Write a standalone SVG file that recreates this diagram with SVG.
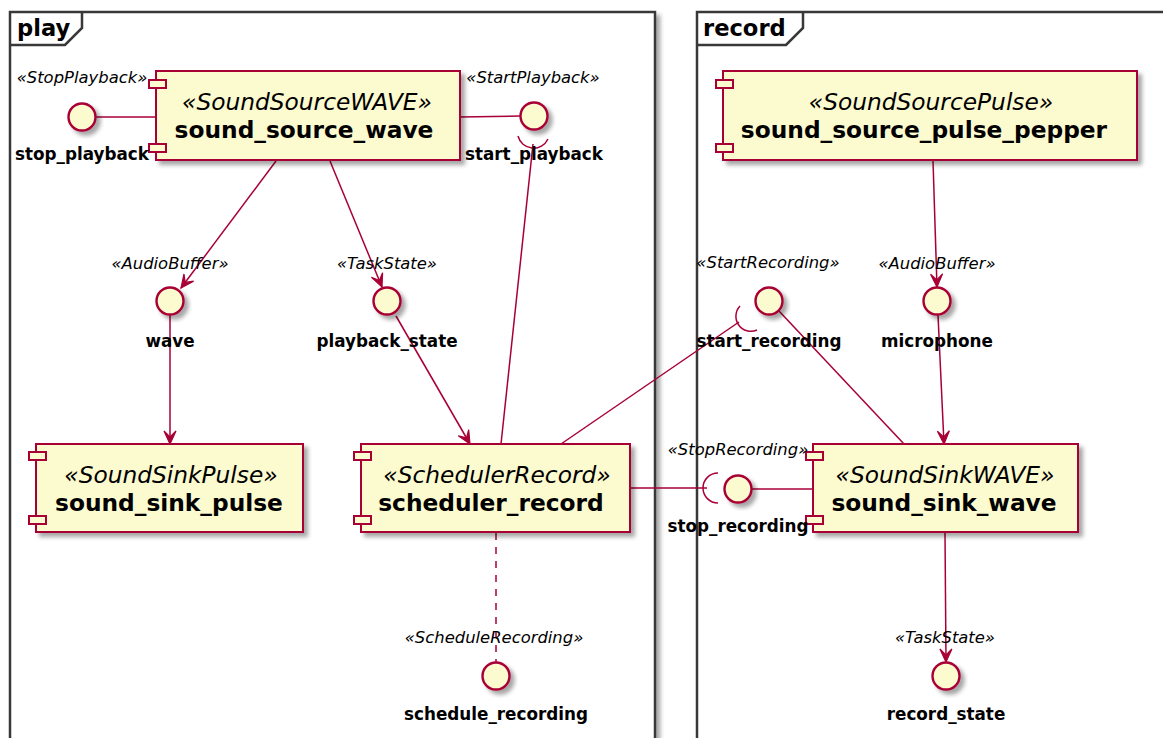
<svg xmlns="http://www.w3.org/2000/svg" width="1163" height="738" viewBox="0 0 1163 738">
  <defs>
    <filter id="shadow" x="-20%" y="-20%" width="150%" height="150%">
      <feGaussianBlur in="SourceAlpha" stdDeviation="2.2"/>
      <feOffset dx="4" dy="4" result="blur"/>
      <feFlood flood-color="#000" flood-opacity="0.35"/>
      <feComposite in2="blur" operator="in"/>
      <feMerge>
        <feMergeNode/>
        <feMergeNode in="SourceGraphic"/>
      </feMerge>
    </filter>
    <marker id="arrow" markerUnits="userSpaceOnUse" viewBox="-15 -8 17 16" refX="0" refY="0" markerWidth="17" markerHeight="16" orient="auto">
      <path d="M0,0 L-13,-6 L-7,0 L-13,6 Z" fill="#A80036" stroke="#A80036" stroke-width="1.2" stroke-linejoin="miter"/>
    </marker>
    <style>
      .frame { fill: #fff; stroke: #383838; stroke-width: 2.5; }
      .tab { fill: none; stroke: #383838; stroke-width: 2.5; }
      .ftitle { font-family: "DejaVu Sans", sans-serif; font-weight: bold; font-size: 22.6px; fill: #000; }
      .comp { fill: #FCFACF; stroke: #A80036; stroke-width: 2; }
      .port { fill: #FCFACF; stroke: #A80036; stroke-width: 2; }
      .iface { fill: #FCFACF; stroke: #A80036; stroke-width: 2.4; }
      .stereo { font-family: "DejaVu Sans", sans-serif; font-style: italic; font-size: 23.3px; fill: #000; text-anchor: middle; }
      .name { font-family: "DejaVu Sans", sans-serif; font-weight: bold; font-size: 23.3px; fill: #000; text-anchor: middle; }
      .istereo { font-family: "DejaVu Sans", sans-serif; font-style: italic; font-size: 16.4px; fill: #000; text-anchor: middle; }
      .iname { font-family: "DejaVu Sans", sans-serif; font-weight: bold; font-size: 16.8px; fill: #000; text-anchor: middle; }
      .link { fill: none; stroke: #A80036; stroke-width: 1.5; }
      .arrow { marker-end: url(#arrow); }
      .dashed { stroke-dasharray: 7 7; }
    </style>
  </defs>

  <rect width="1163" height="738" fill="#fff"/>

  <!-- packages -->
  <g id="frame-play">
    <rect class="frame" x="10" y="12" width="645" height="760" filter="url(#shadow)"/>
    <path class="tab" d="M10,45 H65 L82,28 V12"/>
    <text class="ftitle" x="17" y="36">play</text>
  </g>
  <g id="frame-record">
    <rect class="frame" x="697" y="12" width="520" height="760" filter="url(#shadow)"/>
    <path class="tab" d="M697,45 H786 L803,28 V12"/>
    <text class="ftitle" x="703" y="36">record</text>
  </g>

  <!-- connectors -->
  <g id="connectors">
    <line class="link" x1="96" y1="117" x2="156" y2="117"/>
    <line class="link" x1="460" y1="117" x2="520" y2="116"/>
    <path class="link" d="M518,136 A16,16 0 0 0 548,139"/>
    <line class="link" x1="533" y1="144" x2="501" y2="444"/>
    <line class="link arrow" x1="276" y1="161" x2="181" y2="288"/>
    <line class="link arrow" x1="330" y1="161" x2="382" y2="287"/>
    <line class="link arrow" x1="170" y1="315" x2="170" y2="444"/>
    <line class="link arrow" x1="396" y1="316" x2="470" y2="444"/>
    <line class="link dashed" x1="496" y1="533" x2="496" y2="662"/>
    <path class="link" d="M740,306 A15,15 0 0 0 757,330"/>
    <line class="link" x1="561" y1="444" x2="739" y2="322"/>
    <line class="link" x1="779" y1="311" x2="904" y2="444"/>
    <path class="link" d="M718,473 A15,15 0 0 0 718,503"/>
    <line class="link" x1="630" y1="488" x2="707" y2="488"/>
    <line class="link" x1="752" y1="489" x2="813" y2="489"/>
    <line class="link arrow" x1="933" y1="161" x2="937" y2="287"/>
    <line class="link arrow" x1="938" y1="315" x2="944" y2="444"/>
    <line class="link arrow" x1="945" y1="533" x2="946" y2="662"/>
  </g>

  <!-- components -->
  <g id="sound_source_wave">
    <rect class="comp" x="156" y="71" width="304" height="89" filter="url(#shadow)"/>
    <rect class="port" x="149" y="80" width="17" height="8"/>
    <rect class="port" x="149" y="144" width="17" height="8"/>
    <text class="stereo" x="307" y="110">«SoundSourceWAVE»</text>
    <text class="name" x="304" y="138">sound_source_wave</text>
  </g>
  <g id="sound_sink_pulse">
    <rect class="comp" x="36" y="444" width="267" height="88" filter="url(#shadow)"/>
    <rect class="port" x="29" y="452" width="17" height="8"/>
    <rect class="port" x="29" y="516" width="17" height="8"/>
    <text class="stereo" x="171" y="483">«SoundSinkPulse»</text>
    <text class="name" x="169" y="511">sound_sink_pulse</text>
  </g>
  <g id="scheduler_record">
    <rect class="comp" x="361" y="444" width="269" height="88" filter="url(#shadow)"/>
    <rect class="port" x="354" y="452" width="17" height="8"/>
    <rect class="port" x="354" y="516" width="17" height="8"/>
    <text class="stereo" x="497" y="483">«SchedulerRecord»</text>
    <text class="name" x="491" y="511">scheduler_record</text>
  </g>
  <g id="sound_source_pulse_pepper">
    <rect class="comp" x="723" y="71" width="414" height="89" filter="url(#shadow)"/>
    <rect class="port" x="716" y="80" width="17" height="8"/>
    <rect class="port" x="716" y="144" width="17" height="8"/>
    <text class="stereo" x="931" y="110">«SoundSourcePulse»</text>
    <text class="name" x="924" y="138">sound_source_pulse_pepper</text>
  </g>
  <g id="sound_sink_wave">
    <rect class="comp" x="813" y="444" width="265" height="88" filter="url(#shadow)"/>
    <rect class="port" x="806" y="452" width="17" height="8"/>
    <rect class="port" x="806" y="516" width="17" height="8"/>
    <text class="stereo" x="945" y="483">«SoundSinkWAVE»</text>
    <text class="name" x="944" y="511">sound_sink_wave</text>
  </g>

  <!-- interfaces -->
  <g id="stop_playback">
    <circle class="iface" cx="82" cy="117" r="13.5" filter="url(#shadow)"/>
    <text class="istereo" x="82" y="83">«StopPlayback»</text>
    <text class="iname" x="82" y="160">stop_playback</text>
  </g>
  <g id="start_playback">
    <circle class="iface" cx="534" cy="116" r="13.5" filter="url(#shadow)"/>
    <text class="istereo" x="533" y="83">«StartPlayback»</text>
    <text class="iname" x="534" y="160">start_playback</text>
  </g>
  <g id="wave">
    <circle class="iface" cx="170" cy="301" r="13.5" filter="url(#shadow)"/>
    <text class="istereo" x="170" y="269">«AudioBuffer»</text>
    <text class="iname" x="170" y="347">wave</text>
  </g>
  <g id="playback_state">
    <circle class="iface" cx="387" cy="301" r="13.5" filter="url(#shadow)"/>
    <text class="istereo" x="387" y="269">«TaskState»</text>
    <text class="iname" x="387" y="347">playback_state</text>
  </g>
  <g id="schedule_recording">
    <circle class="iface" cx="496" cy="676" r="13.5" filter="url(#shadow)"/>
    <text class="istereo" x="494" y="643">«ScheduleRecording»</text>
    <text class="iname" x="496" y="720">schedule_recording</text>
  </g>
  <g id="start_recording">
    <circle class="iface" cx="769" cy="301" r="13.5" filter="url(#shadow)"/>
    <text class="istereo" x="768" y="268">«StartRecording»</text>
    <text class="iname" x="769" y="347">start_recording</text>
  </g>
  <g id="microphone">
    <circle class="iface" cx="937" cy="301" r="13.5" filter="url(#shadow)"/>
    <text class="istereo" x="937" y="269">«AudioBuffer»</text>
    <text class="iname" x="937" y="347">microphone</text>
  </g>
  <g id="stop_recording">
    <circle class="iface" cx="738" cy="489" r="13.5" filter="url(#shadow)"/>
    <text class="istereo" x="738" y="455">«StopRecording»</text>
    <text class="iname" x="738" y="532">stop_recording</text>
  </g>
  <g id="record_state">
    <circle class="iface" cx="946" cy="676" r="13.5" filter="url(#shadow)"/>
    <text class="istereo" x="945" y="643">«TaskState»</text>
    <text class="iname" x="946" y="720">record_state</text>
  </g>
</svg>
